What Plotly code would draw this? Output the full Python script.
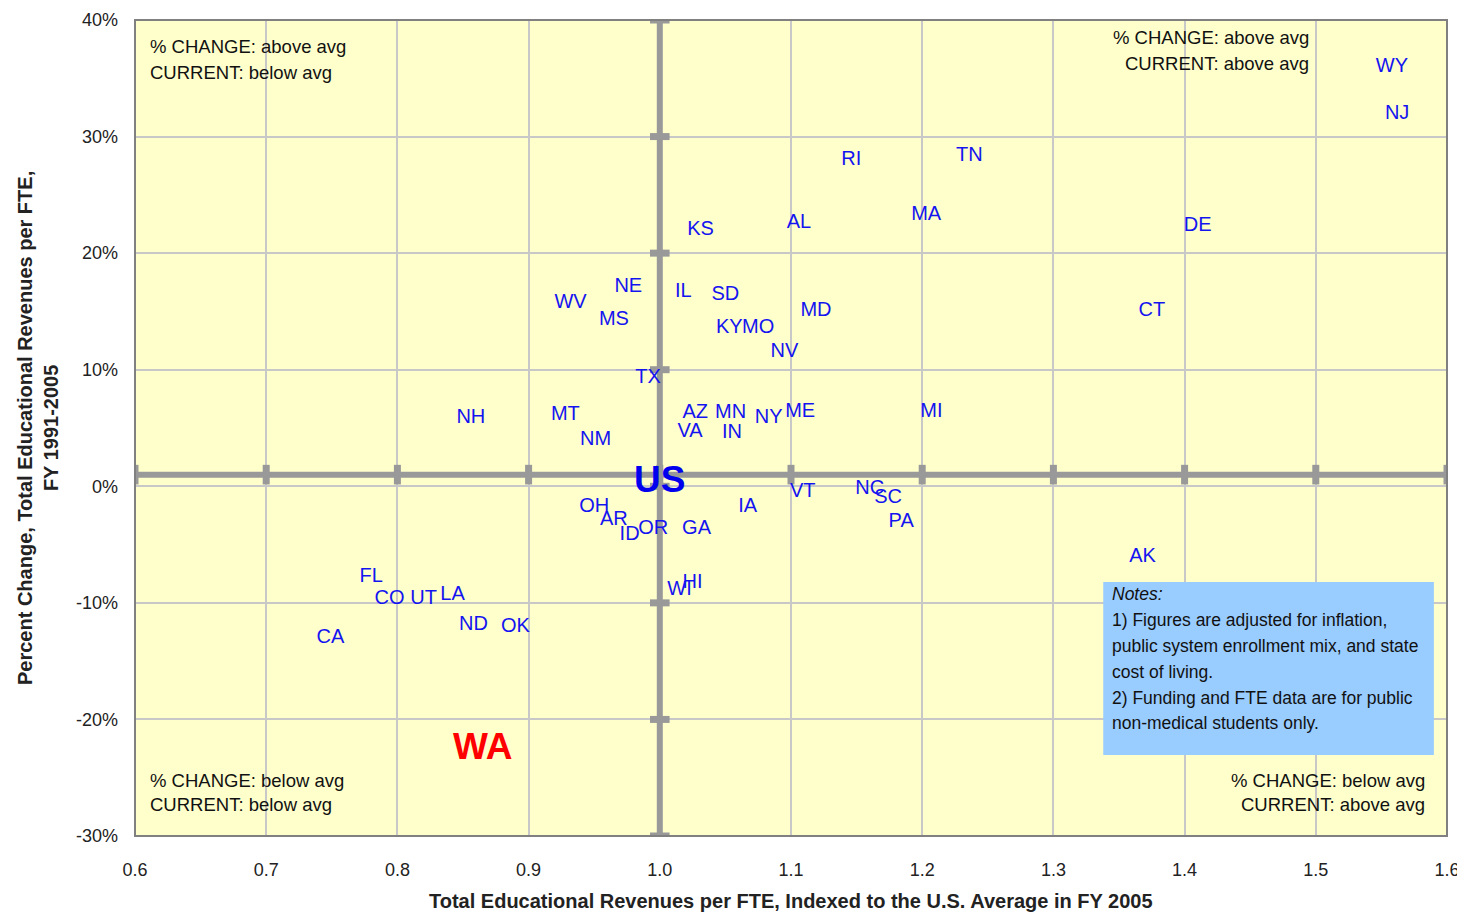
import plotly.graph_objects as go

# ---- data ----
states = ["WY", "NJ", "RI", "TN", "MA", "DE", "AL", "KS", "NE", "IL", "SD", "WV", "MS", "MD", "CT",
          "KY", "MO", "NV", "TX", "NH", "MT", "NM", "AZ", "VA", "MN", "IN", "NY", "ME", "MI",
          "VT", "NC", "SC", "PA", "IA", "OH", "AR", "ID", "OR", "GA", "AK", "WI", "HI",
          "FL", "CO", "UT", "LA", "ND", "OK", "CA"]
revenue_index = [1.558, 1.562, 1.146, 1.236, 1.203, 1.410, 1.106, 1.031, 0.976, 1.018, 1.050, 0.932, 0.965, 1.119, 1.375,
                 1.053, 1.075, 1.095, 0.991, 0.856, 0.928, 0.951, 1.027, 1.023, 1.054, 1.055, 1.083, 1.107, 1.207,
                 1.109, 1.160, 1.174, 1.184, 1.067, 0.950, 0.965, 0.977, 0.995, 1.028, 1.368, 1.015, 1.025,
                 0.780, 0.794, 0.820, 0.842, 0.858, 0.890, 0.749]
pct_change = [36.0, 31.9, 28.0, 28.3, 23.3, 22.3, 22.6, 22.0, 17.1, 16.7, 16.4, 15.7, 14.3, 15.0, 15.0,
              13.6, 13.6, 11.5, 9.3, 5.9, 6.1, 4.0, 6.3, 4.7, 6.3, 4.6, 5.9, 6.4, 6.4,
              -0.5, -0.25, -1.0, -3.1, -1.8, -1.8, -2.9, -4.2, -3.7, -3.7, -6.1, -8.9, -8.3,
              -7.8, -9.7, -9.7, -9.3, -11.9, -12.1, -13.0]

wa_x, wa_y = [0.865], [-22.6]
us_x, us_y = 1.0, 1.0

x_ticks = [0.6, 0.7, 0.8, 0.9, 1.0, 1.1, 1.2, 1.3, 1.4, 1.5, 1.6]
y_ticks = [-30, -20, -10, 0, 10, 20, 30, 40]
y_tick_labels = ["-30%", "-20%", "-10%", "0%", "10%", "20%", "30%", "40%"]

FONT = "Liberation Sans, Arial, sans-serif"
GRAY = "#999999"

fig = go.Figure()

# crosshair through the US average
fig.add_trace(go.Scatter(x=[us_x, us_x], y=[y_ticks[0], y_ticks[-1]], mode="lines",
                         line=dict(color=GRAY, width=6), hoverinfo="skip", showlegend=False))
fig.add_trace(go.Scatter(x=[x_ticks[0], x_ticks[-1]], y=[us_y, us_y], mode="lines",
                         line=dict(color=GRAY, width=6), hoverinfo="skip", showlegend=False))
# tick blobs along crosshair
fig.add_trace(go.Scatter(x=[us_x] * len(y_ticks), y=y_ticks, mode="markers",
                         marker=dict(symbol="line-ew", size=14, line=dict(color=GRAY, width=7)),
                         hoverinfo="skip", showlegend=False))
fig.add_trace(go.Scatter(x=x_ticks, y=[us_y] * len(x_ticks), mode="markers",
                         marker=dict(symbol="line-ns", size=14, line=dict(color=GRAY, width=7)),
                         hoverinfo="skip", showlegend=False))

# state labels
fig.add_trace(go.Scatter(x=revenue_index, y=pct_change, mode="text", text=states,
                         textposition="middle center",
                         textfont=dict(family=FONT, size=20, color="#1414f0"),
                         showlegend=False))
# WA highlighted
fig.add_trace(go.Scatter(x=wa_x, y=wa_y, mode="text", text=["<b>WA</b>"],
                         textposition="middle center",
                         textfont=dict(family=FONT, size=37, color="#ff0000"),
                         showlegend=False))
# US label
fig.add_trace(go.Scatter(x=[us_x], y=[us_y - 0.7], mode="text", text=["<b>US</b>"],
                         textposition="middle center",
                         textfont=dict(family=FONT, size=37, color="#0000ee"),
                         showlegend=False))

annots = []
qfont = dict(family=FONT, size=18.5, color="#111111")
def q(x, y, text, anchor):
    annots.append(dict(x=x, y=y, xref="x", yref="y", text=text, showarrow=False,
                       xanchor=anchor, yanchor="middle", font=qfont))

q(0.61, 37.77, "% CHANGE: above avg", "left")
q(0.61, 35.5, "CURRENT: below avg", "left")
q(1.496, 38.54, "% CHANGE: above avg", "right")
q(1.496, 36.31, "CURRENT: above avg", "right")
q(0.61, -25.2, "% CHANGE: below avg", "left")
q(0.61, -27.34, "CURRENT: below avg", "left")
q(1.585, -25.2, "% CHANGE: below avg", "right")
q(1.585, -27.34, "CURRENT: above avg", "right")

notes = ["<i>Notes:</i>",
         "1) Figures are adjusted for inflation,",
         "public system enrollment mix, and state",
         "cost of living.",
         "2) Funding and FTE data are for public",
         "non-medical students only."]
note_y = [-9.24, -11.47, -13.70, -15.93, -18.16, -20.31]
for t, yy in zip(notes, note_y):
    annots.append(dict(x=1.343, y=yy, xref="x", yref="y", text=t, showarrow=False,
                       xanchor="left", yanchor="middle",
                       font=dict(family=FONT, size=17.5, color="#111111")))

# y-axis title
annots.append(dict(x=0, y=0.5, xref="paper", yref="paper", xshift=-97,
                   text="<b>Percent Change, Total Educational Revenues per FTE,<br>FY 1991-2005</b>",
                   textangle=-90, showarrow=False, xanchor="center", yanchor="middle",
                   font=dict(family=FONT, size=20, color="#222222")))
# x-axis title
annots.append(dict(x=0.5, y=0, xref="paper", yref="paper", yshift=-65,
                   text="<b>Total Educational Revenues per FTE, Indexed to the U.S. Average in FY 2005</b>",
                   showarrow=False, xanchor="center", yanchor="middle",
                   font=dict(family=FONT, size=20, color="#222222")))

# page body has an 8px margin; keep the figure from making the page scroll
fig.update_layout(
    width=1454, height=904,
    margin=dict(l=127, r=15, t=12, b=76),
    paper_bgcolor="white",
    plot_bgcolor="#ffffcc",
    annotations=annots,
    shapes=[
        dict(type="rect", xref="x", yref="y", x0=1.338, x1=1.590, y0=-23.05, y1=-8.21,
             fillcolor="#99ccff", line=dict(width=0), layer="above"),
        dict(type="rect", xref="paper", yref="paper", x0=0, x1=1, y0=0, y1=1,
             line=dict(color="#808080", width=2), layer="above"),
    ],
    showlegend=False,
)
fig.update_xaxes(range=[0.6, 1.6], tickvals=x_ticks, tickformat=".1f", automargin=False,
                 showgrid=True, gridcolor="#c8c8c8", gridwidth=2, zeroline=False,
                 ticks="", ticklabelstandoff=21, ticklabeloverflow="allow",
                 tickfont=dict(family=FONT, size=18, color="#222222"))
fig.update_yaxes(range=[-30, 40], tickvals=y_ticks, ticktext=y_tick_labels, automargin=False,
                 showgrid=True, gridcolor="#c8c8c8", gridwidth=2, zeroline=False,
                 ticks="", ticklabelstandoff=16,
                 tickfont=dict(family=FONT, size=18, color="#222222"))

fig.write_html("out.html")
